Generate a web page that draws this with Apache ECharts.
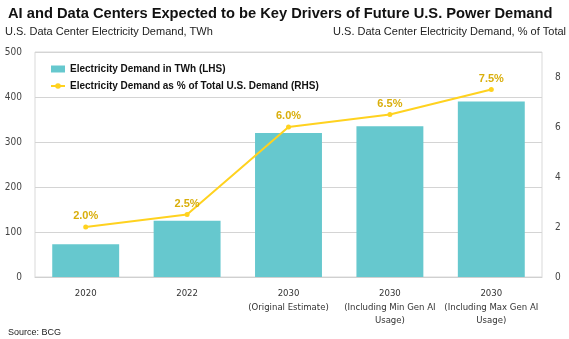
<!DOCTYPE html>
<html><head><meta charset="utf-8">
<script src="https://cdn.jsdelivr.net/npm/echarts@6/dist/echarts.min.js"></script>
<style>html,body{margin:0;padding:0;background:#fff}#c{width:569px;height:339px}</style>
</head><body><div id="c"></div>
<script>
const categories = ['2020', '2022', '2030\n(Original Estimate)', '2030\n(Including Min Gen AI\nUsage)', '2030\n(Including Max Gen AI\nUsage)'];
const demandTWh = [73, 125, 320, 335, 390];
const demandPct = [2.0, 2.5, 6.0, 6.5, 7.5];
const leftTicks = [0, 500, 100];
const rightTicks = [0, 9, 2];

const narrow = '"DejaVu Sans Condensed", "Liberation Sans Narrow", "Liberation Sans", sans-serif';
const sans = '"Liberation Sans", Arial, sans-serif';
const chart = echarts.init(document.getElementById('c'), null, {renderer: 'canvas'});
chart.setOption({
  animation: false,
  title: [
    {text: 'AI and Data Centers Expected to be Key Drivers of Future U.S. Power Demand', left: 8, top: 6, padding: 0,
     textStyle: {fontFamily: sans, fontSize: 14.7, fontWeight: 'bold', color: '#111'}},
    {text: 'U.S. Data Center Electricity Demand, TWh', left: 5, top: 26, padding: 0,
     textStyle: {fontFamily: sans, fontSize: 11, fontWeight: 'normal', color: '#222'}},
    {text: 'U.S. Data Center Electricity Demand, % of Total', right: 3, top: 26, padding: 0,
     textStyle: {fontFamily: sans, fontSize: 11, fontWeight: 'normal', color: '#222'}},
    {text: 'Source: BCG', left: 8, top: 328, padding: 0,
     textStyle: {fontFamily: sans, fontSize: 9, fontWeight: 'normal', color: '#222'}}
  ],
  legend: {
    left: 45, top: 59, orient: 'vertical', itemGap: 7, itemWidth: 14, itemHeight: 7,
    textStyle: {fontFamily: sans, fontSize: 10, fontWeight: 'bold', color: '#111'},
    data: [
      {name: 'Electricity Demand in TWh (LHS)', icon: 'rect'},
      {name: 'Electricity Demand as % of Total U.S. Demand (RHS)'}
    ]
  },
  grid: {left: 35, top: 52, width: 507, height: 225, show: true, borderColor: '#d9d9d9', borderWidth: 1},
  xAxis: {
    type: 'category', data: categories,
    axisLine: {lineStyle: {color: '#d0d0d0'}}, axisTick: {show: false},
    axisLabel: {fontFamily: narrow, fontSize: 9.5, color: '#333', lineHeight: 13.5, margin: 10, interval: 0}
  },
  yAxis: [
    {type: 'value', min: leftTicks[0], max: leftTicks[1], interval: leftTicks[2],
     axisLine: {show: false}, axisTick: {show: false},
     axisLabel: {fontFamily: narrow, fontSize: 10, color: '#444', margin: 13},
     splitLine: {lineStyle: {color: '#d4d4d4'}}},
    {type: 'value', min: rightTicks[0], max: rightTicks[1], interval: rightTicks[2], position: 'right',
     axisLine: {show: false}, axisTick: {show: false},
     axisLabel: {fontFamily: narrow, fontSize: 10, color: '#444', margin: 13, showMaxLabel: false},
     splitLine: {show: false}}
  ],
  series: [
    {name: 'Electricity Demand in TWh (LHS)', type: 'bar', data: demandTWh, barWidth: '66%',
     itemStyle: {color: '#66C8CE'}},
    {name: 'Electricity Demand as % of Total U.S. Demand (RHS)', type: 'line', yAxisIndex: 1, data: demandPct,
     symbol: 'circle', symbolSize: 5, lineStyle: {color: '#FFD21F', width: 2}, itemStyle: {color: '#FFD21F'},
     label: {show: true, position: 'top', distance: 3, formatter: p => p.value.toFixed(1) + '%',
       fontFamily: sans, fontSize: 11, fontWeight: 'bold', color: '#D9AE0B'}}
  ]
});
</script></body></html>
